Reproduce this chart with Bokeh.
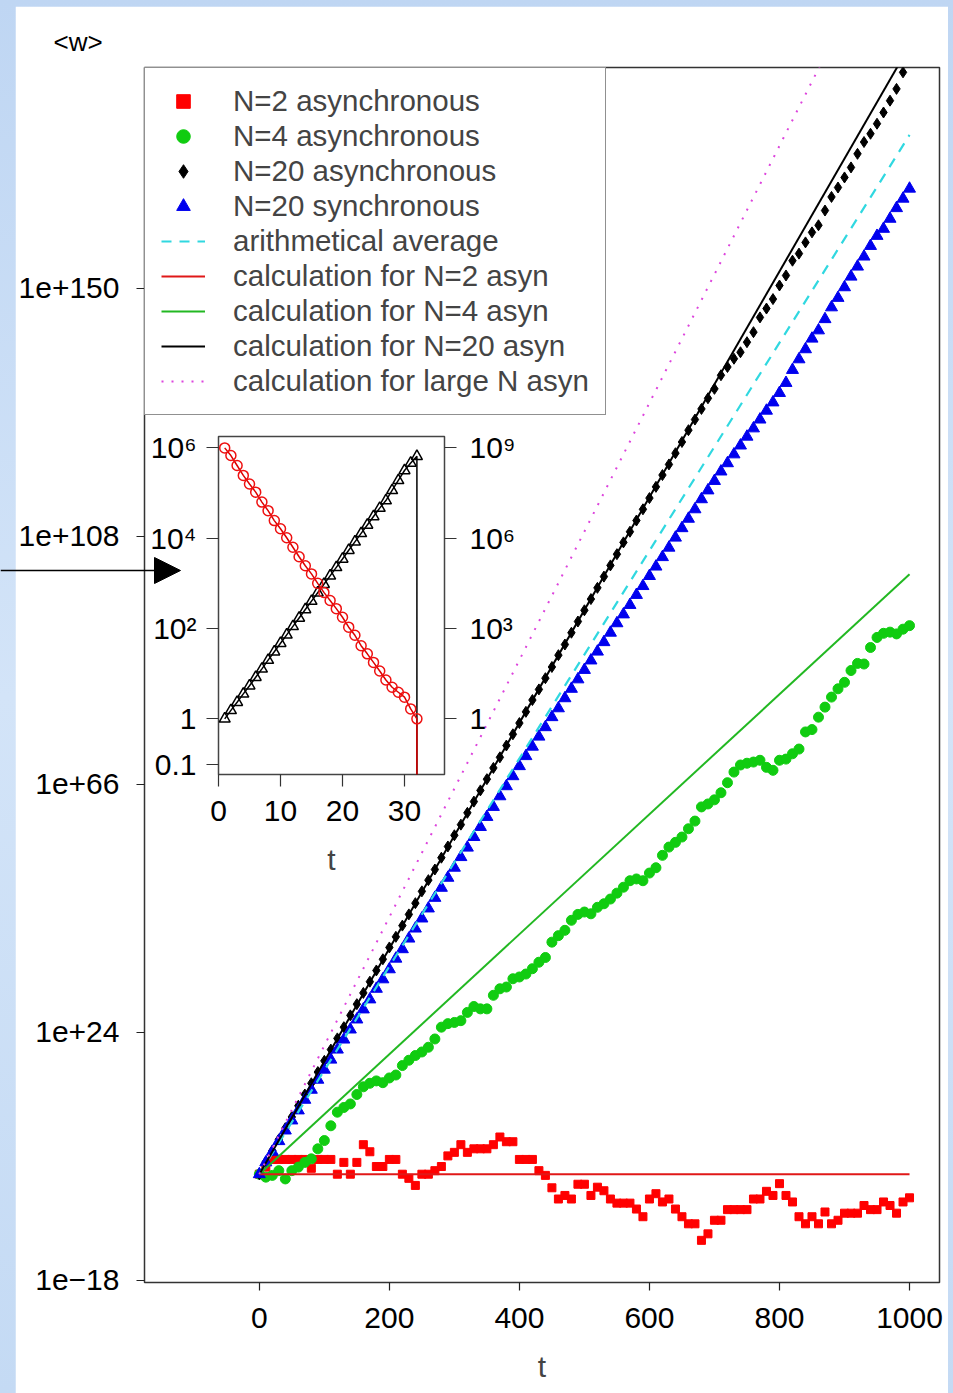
from bokeh.plotting import figure
from bokeh.models import (Range1d, FixedTicker, Legend, LegendItem, Arrow,
                          NormalHead, LogAxis, LogScale, Title)
from bokeh.layouts import column
from bokeh.embed import file_html
from bokeh.resources import INLINE

# ---------------- main panel data (log10 <w>) ----------------
t_obs = list(range(0, 1001, 10))

n2_async = [0, 1.2, 2.5, 2.5, 2.5, 2.5, 2.5, 2.5, 1.0, 2.5,
            2.5, 2.5, 0, 2.0, 0, 2.0, 5.0, 3.8, 1.3, 1.3,
            2.5, 2.5, 0, -0.7, -1.9, 0, 0, 0.6, 1.3, 3.1,
            3.7, 5.0, 3.7, 4.3, 4.3, 4.3, 5.0, 6.3, 5.5, 5.5,
            2.5, 2.5, 2.5, 0.6, -0.2, -2.3, -4.2, -3.6, -4.2, -1.7,
            -1.7, -3.6, -2.2, -2.8, -4.2, -4.9, -4.9, -4.9, -5.9, -7.2,
            -4.2, -3.3, -4.7, -4.2, -5.9, -7.2, -8.4, -8.4, -11.2, -10.1,
            -7.8, -7.8, -6.0, -6.0, -6.0, -6.0, -4.2, -4.2, -2.9, -3.6,
            -1.6, -3.6, -4.7, -7.2, -8.4, -7.2, -8.4, -6.4, -8.4, -7.8,
            -6.6, -6.6, -6.6, -5.3, -6.0, -6.0, -4.7, -5.3, -6.6, -4.7, -4.0]

n4_async = [0, -0.5, -0.2, 0.6, -0.8, 0.6, 1.2, 2.0, 2.6, 4.3,
            5.7, 8.2, 10.5, 11.3, 11.9, 13.5, 14.8, 15.4, 15.8, 15.5,
            16.3, 16.8, 18.4, 19.3, 20.1, 20.7, 21.5, 22.9, 24.9, 25.5,
            25.7, 26.0, 27.4, 28.4, 28.0, 28.0, 30.3, 31.4, 31.7, 33.1,
            33.4, 33.9, 34.8, 35.9, 36.7, 39.3, 40.4, 41.3, 43.0, 44.0,
            44.4, 44.1, 45.2, 45.8, 46.6, 47.6, 48.6, 49.7, 50.0, 49.7,
            51.0, 51.9, 54.0, 55.4, 56.2, 57.1, 58.5, 59.8, 62.2, 62.7,
            63.4, 64.6, 66.3, 68.1, 69.3, 69.6, 69.8, 70.1, 68.9, 68.4,
            70.1, 70.3, 71.2, 72.0, 74.9, 75.3, 77.4, 79.1, 80.8, 82.2,
            83.3, 85.3, 86.5, 86.4, 89.2, 90.9, 91.6, 91.8, 91.5, 92.3, 92.9]

n20_async = [0, 2.1, 4.0, 5.9, 7.8, 9.7, 11.6, 13.5, 15.4, 17.3,
             19.2, 21.1, 23.0, 24.9, 26.9, 28.8, 30.7, 32.6, 34.5, 36.4,
             38.4, 40.2, 42.1, 44.0, 45.9, 47.9, 49.8, 51.6, 53.6, 55.5,
             57.4, 59.2, 61.2, 63.1, 65.0, 66.9, 68.8, 70.6, 72.6, 74.5,
             76.4, 78.3, 80.3, 82.1, 84.0, 85.9, 87.9, 89.7, 91.7, 93.6,
             95.5, 97.4, 99.3, 101.2, 103.1, 105.0, 107.0, 108.8, 110.7, 112.6,
             114.5, 116.4, 118.4, 120.2, 122.1, 124.0, 126.0, 127.8, 129.6, 131.4,
             133.0, 135.3, 136.7, 138.1, 139.2, 140.9, 142.6, 145.1, 146.6, 148.2,
             150.5, 152.2, 154.7, 155.9, 157.8, 159.5, 160.7, 163.2, 165.5, 167.1,
             168.8, 170.5, 172.8, 174.8, 176.2, 177.9, 179.8, 181.8, 183.8, 186.6, 188.6]

n20_sync = [0, 2.0, 3.8, 5.6, 7.4, 9.1, 10.8, 12.6, 14.3, 16.0,
            17.7, 19.4, 21.1, 22.8, 24.5, 26.2, 27.9, 29.6, 31.4, 33.0,
            34.7, 36.5, 38.1, 39.9, 41.6, 43.3, 45.0, 46.8, 48.5, 50.2,
            51.9, 53.7, 55.3, 57.1, 58.8, 60.5, 62.2, 64.0, 65.7, 67.4,
            69.1, 70.8, 72.4, 74.1, 75.7, 77.4, 78.9, 80.6, 82.2, 83.8,
            85.4, 87.0, 88.5, 90.1, 91.7, 93.3, 94.8, 96.4, 98.1, 99.6,
            101.3, 102.9, 104.5, 106.1, 107.8, 109.4, 111.0, 112.6, 114.3, 115.8,
            117.4, 119.0, 120.4, 121.9, 123.4, 124.9, 126.3, 127.8, 129.3, 130.7,
            132.3, 134.0, 136.2, 138.0, 139.7, 141.5, 142.9, 144.8, 146.8, 148.4,
            150.2, 152.0, 153.7, 155.4, 157.2, 158.9, 160.1, 161.8, 163.6, 165.2, 166.9]

t_calc = [0, 1000]
arith_avg = [0, 176.0]
calc_n2 = [0, 0]
calc_n4 = [0, 101.6]
calc_n20 = [0, 191.1]
calc_large = [0, 217.7]

x_ticks = [0, 200, 400, 600, 800, 1000]
y_tick_exp = [-18, 24, 66, 108, 150]
y_tick_labels = ["1e\u221218", "1e+24", "1e+66", "1e+108", "1e+150"]

# ---------------- inset data ----------------
t_inset = list(range(1, 33))
inset_red = [6.0, 5.83, 5.61, 5.39, 5.20, 5.02, 4.80, 4.61, 4.39, 4.21,
             4.01, 3.80, 3.59, 3.39, 3.21, 3.00, 2.80, 2.62, 2.44, 2.25,
             2.03, 1.85, 1.62, 1.44, 1.25, 1.06, 0.86, 0.70, 0.59, 0.48,
             0.22, 0.0]
inset_black = [0.0, 0.28, 0.55, 0.83, 1.10, 1.38, 1.66, 1.95, 2.23, 2.51,
               2.79, 3.07, 3.35, 3.63, 3.91, 4.19, 4.47, 4.75, 5.03, 5.31,
               5.60, 5.88, 6.16, 6.44, 6.72, 7.00, 7.25, 7.59, 7.92, 8.25,
               8.50, 8.72]
inset_end_t = 32
inset_end_exp = -4          # collapse to ~0 at the end
inset_x_ticks = [0, 10, 20, 30]
inset_left_ticks = [0.1, 1, 1e2, 1e4, 1e6]
inset_left_labels = ["0.1", "1", "10\u00b2", "10\u2074", "10\u2076"]
inset_right_ticks = [1, 1e3, 1e6, 1e9]
inset_right_labels = ["1", "10\u00b3", "10\u2076", "10\u2079"]


def pw(v):
    return [10.0 ** e for e in v]


FONT = "Liberation Sans"

# ---------------- main figure ----------------
p = figure(width=933, height=1387,
           x_range=Range1d(-176.6, 1046.1),
           y_range=Range1d(10.0 ** -18.34, 10.0 ** 187.42),
           y_axis_type="log", output_backend="svg", toolbar_location=None,
           min_border_left=128, min_border_right=9, min_border_top=61,
           min_border_bottom=111, background_fill_color="white",
           border_fill_color="white", outline_line_color="#333333",
           outline_line_width=1.5, margin=(6, 5, 0, 15))
p.grid.visible = False

p.add_layout(Title(text="<w>", align="left", offset=-91, standoff=22,
                   text_font=FONT, text_font_size="26px",
                   text_font_style="normal", text_color="black"), "above")

p.xaxis.ticker = FixedTicker(ticks=x_ticks)
p.yaxis.ticker = FixedTicker(ticks=[10.0 ** e for e in y_tick_exp])
p.yaxis.major_label_overrides = {10.0 ** e: lab for e, lab in zip(y_tick_exp, y_tick_labels)}
for ax in (p.xaxis[0], p.yaxis[0]):
    ax.axis_line_color = None
    ax.major_tick_out = 8
    ax.major_tick_in = 0
    ax.minor_tick_out = 0
    ax.minor_tick_in = 0
    ax.major_tick_line_color = "#222222"
    ax.major_tick_line_width = 1.2
    ax.major_label_text_font = FONT
    ax.major_label_text_font_size = "30px"
    ax.major_label_text_color = "black"
p.xaxis.major_label_standoff = 17
p.yaxis.major_label_standoff = 17
p.xaxis.axis_label = "t"
p.xaxis.axis_label_text_font = FONT
p.xaxis.axis_label_text_font_size = "30px"
p.xaxis.axis_label_text_font_style = "normal"
p.xaxis.axis_label_standoff = 19

r_n2 = p.scatter(t_obs, pw(n2_async), marker="square", size=8,
                 fill_color="#ff0000", line_color="#ff0000")
r_n4 = p.scatter(t_obs, pw(n4_async), marker="circle", size=10,
                 fill_color="#10cc10", line_color="#10cc10")
r_n20a = p.scatter(t_obs, pw(n20_async), marker="diamond", size=11,
                   fill_color="black", line_color="black")
r_n20s = p.scatter(t_obs, pw(n20_sync), marker="triangle", size=12,
                   fill_color="#0000ee", line_color="#0000ee")
r_avg = p.line(t_calc, pw(arith_avg), line_color="#30d8e0", line_width=2.2,
               line_dash="10 8")
r_c2 = p.line(t_calc, pw(calc_n2), line_color="#e01818", line_width=2)
r_c4 = p.line(t_calc, pw(calc_n4), line_color="#22b822", line_width=2)
r_c20 = p.line(t_calc, pw(calc_n20), line_color="black", line_width=2)
r_cl = p.line(t_calc, pw(calc_large), line_color="#dd44dd", line_width=2,
              line_dash="2 8")

legend = Legend(items=[
    LegendItem(label="N=2 asynchronous", renderers=[r_n2]),
    LegendItem(label="N=4 asynchronous", renderers=[r_n4]),
    LegendItem(label="N=20 asynchronous", renderers=[r_n20a]),
    LegendItem(label="N=20 synchronous", renderers=[r_n20s]),
    LegendItem(label="arithmetical average", renderers=[r_avg]),
    LegendItem(label="calculation for N=2 asyn", renderers=[r_c2]),
    LegendItem(label="calculation for N=4 asyn", renderers=[r_c4]),
    LegendItem(label="calculation for N=20 asyn", renderers=[r_c20]),
    LegendItem(label="calculation for large N asyn", renderers=[r_cl]),
], location="top_left", margin=0, padding=16, spacing=1,
   glyph_height=34, glyph_width=44, label_height=34, label_standoff=28,
   label_text_font=FONT, label_text_font_size="29.5px",
   border_line_color="#222222", border_line_width=1.3,
   background_fill_color="white", background_fill_alpha=1.0)
p.add_layout(legend)

main_col = column(p, styles={
    "background": "linear-gradient(180deg, #bfd6f3 0%, #d3e4f8 50%, #c4daf4 100%)"})

# ---------------- inset figure ----------------
inset = figure(width=400, height=465,
               x_range=Range1d(0, 36.45),
               y_range=Range1d(10.0 ** -1.232, 10.0 ** 6.252),
               y_axis_type="log", output_backend="svg", toolbar_location=None,
               min_border_left=83, min_border_right=91, min_border_top=16,
               min_border_bottom=111, background_fill_alpha=0,
               border_fill_alpha=0, outline_line_color="#444444",
               outline_line_width=1.5)
inset.grid.visible = False
inset.extra_y_ranges = {"right": Range1d(10.0 ** -1.849, 10.0 ** 9.379)}
inset.extra_y_scales = {"right": LogScale()}

left_ax = inset.yaxis[0]
left_ax.ticker = FixedTicker(ticks=inset_left_ticks)
left_ax.major_label_overrides = dict(zip(inset_left_ticks, inset_left_labels))
right_ax = LogAxis(y_range_name="right", ticker=FixedTicker(ticks=inset_right_ticks),
                   major_label_overrides=dict(zip(inset_right_ticks, inset_right_labels)))
inset.add_layout(right_ax, "right")
bottom_ax = inset.xaxis[0]
bottom_ax.ticker = FixedTicker(ticks=inset_x_ticks)
bottom_ax.axis_label = "t"
bottom_ax.axis_label_text_font = FONT
bottom_ax.axis_label_text_font_size = "30px"
bottom_ax.axis_label_text_font_style = "normal"
bottom_ax.axis_label_standoff = 19
for ax in (left_ax, right_ax, bottom_ax):
    ax.axis_line_color = None
    ax.major_tick_out = 12
    ax.major_tick_in = 0
    ax.minor_tick_out = 0
    ax.minor_tick_in = 0
    ax.major_tick_line_color = "#333333"
    ax.major_tick_line_width = 1.2
    ax.major_label_text_font = FONT
    ax.major_label_text_font_size = "30px"
    ax.major_label_text_color = "black"
left_ax.major_label_standoff = 10
right_ax.major_label_standoff = 13
bottom_ax.major_label_standoff = 14

inset.line(t_inset + [inset_end_t], pw(inset_black + [inset_end_exp]),
           y_range_name="right", line_color="black", line_width=1.5)
inset.scatter(t_inset, pw(inset_black), y_range_name="right", marker="triangle",
              size=11, fill_color=None, line_color="black", line_width=1.5)
inset.line(t_inset + [inset_end_t], pw(inset_red + [inset_end_exp]),
           line_color="#dd0000", line_width=1.5)
inset.scatter(t_inset, pw(inset_red), marker="circle", size=10,
              fill_color=None, line_color="#ee1111", line_width=1.5)

inset.styles = {"position": "absolute", "left": "135px", "top": "420px",
                "z-index": "5"}

# ---------------- pointer arrow (left margin, towards the inset) ----------------
arrow_fig = figure(width=185, height=30, x_range=Range1d(0, 185), y_range=Range1d(0, 30),
                   output_backend="svg", toolbar_location=None, min_border=0,
                   x_axis_location=None, y_axis_location=None,
                   background_fill_alpha=0, border_fill_alpha=0,
                   outline_line_color=None)
arrow_fig.grid.visible = False
arrow_fig.add_layout(Arrow(end=NormalHead(size=26, fill_color="black", line_color="black"),
                           x_start=0, y_start=15, x_end=180, y_end=15,
                           line_color="black", line_width=1.3))
arrow_fig.styles = {"position": "absolute", "left": "0px", "top": "555px",
                    "z-index": "6"}

open("out.html", "w").write(file_html([main_col, inset, arrow_fig], INLINE))
